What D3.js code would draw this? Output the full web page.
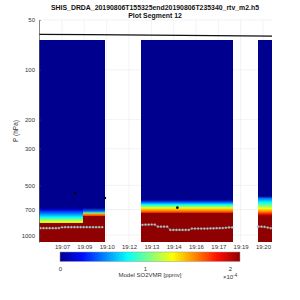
<!DOCTYPE html>
<html>
<head>
<meta charset="utf-8">
<script src="https://cdn.jsdelivr.net/npm/d3@7"></script>
<style>
  body { margin: 0; background: #fff; }
  text { font-family: "Liberation Sans", Arial, sans-serif; }
</style>
</head>
<body>
<svg id="chart" width="300" height="300"></svg>
<script>
const TITLE = "SHIS_DRDA_20190806T155325end20190806T235340_rtv_m2.h5";
const SUBTITLE = "Plot Segment 12";

// time is minutes after 19:00
const X_DOMAIN = [5.71, 20.78];
const P_DOMAIN = [50, 1100];
const X_TICKS = [7.2, 8.64, 10.09, 11.53, 12.98, 14.42, 15.86, 17.31, 18.75, 20.2];
const X_TICK_LABELS = ["19:07", "19:09", "19:10", "19:12", "19:13", "19:14", "19:16", "19:17", "19:19", "19:20"];
const P_TICKS = [50, 100, 200, 300, 500, 700, 1000];
const CBAR_MAX = 2.118; // x 1e-4 ppmv
const CBAR_TICKS = [0, 1, 2];

// SO2 VMR profiles (x1e-4 ppmv) as [pressure hPa, value]
const profileA = [[66, 0], [685, 0], [700, 0.15], [740, 0.5], [780, 0.8], [815, 1.15], [838, 1.3], [846, 2.2], [1100, 2.2]];
const profileB = [[66, 0], [685, 0], [715, 0.45], [735, 1.0], [745, 1.55], [760, 1.7], [768, 2.2], [1100, 2.2]];
const profileC = [[66, 0], [612, 0], [630, 0.4], [655, 0.8], [685, 1.3], [712, 1.6], [728, 1.75], [736, 2.2], [1100, 2.2]];
const profileD = [[66, 0], [582, 0], [600, 0.5], [635, 0.8], [690, 1.3], [722, 1.6], [745, 1.85], [765, 2.2], [1100, 2.2]];

// time segments with data
const segStart = [5.71, 8.56, 12.31, 19.85];
const segEnd = [8.56, 9.97, 18.23, 20.78];
const segProfile = [profileA, profileB, profileC, profileD];

// surface pressure (gray markers), one list per segment of data
const sfcTimes1 = [5.8, 6.0, 6.2, 6.4, 6.6, 6.8, 7.0, 7.2, 7.4, 7.6, 7.8, 8.0, 8.2, 8.4, 8.6, 8.8, 9.0, 9.2, 9.4, 9.6, 9.8];
const sfcP1 = [908, 908, 908, 908, 908, 908, 906, 896, 895, 895, 895, 895, 895, 895, 895, 895, 895, 895, 895, 895, 895];
const sfcTimes2 = [12.4, 12.6, 12.8, 13.0, 13.2, 13.4, 13.6, 13.8, 14.0, 14.2, 14.4, 14.6, 14.8, 15.0, 15.2, 15.4, 15.6, 15.8, 16.0, 16.2, 16.4, 16.6, 16.8, 17.0, 17.2, 17.4, 17.6, 17.8, 18.0, 18.2];
const sfcP2 = [866, 864, 864, 862, 864, 889, 889, 889, 889, 930, 930, 930, 930, 930, 930, 930, 913, 913, 913, 913, 913, 913, 910, 910, 908, 908, 906, 902, 898, 898];
const sfcTimes3 = [19.9, 20.1, 20.3, 20.5, 20.7];
const sfcP3 = [889, 889, 892, 900, 908];

// aircraft level (black line)
const flightTimes = [5.71, 9.0, 13.0, 17.0, 20.78];
const flightP = [61.0, 61.3, 61.7, 62.1, 62.5];

// black markers
const markTimes = [8.04, 9.97, 14.66];
const markP = [556, 596, 682];

const svg = d3.select("#chart");
const plot = { left: 39, right: 272, top: 20, bottom: 242 };

const x = d3.scaleLinear().domain(X_DOMAIN).range([plot.left, plot.right]);
const y = d3.scaleLog().domain(P_DOMAIN).range([plot.top, plot.bottom]);
const frac = d3.scaleLinear().domain([0, CBAR_MAX]).range([0, 1]).clamp(true);

// continuous version of matlab jet(64)
function jet(f) {
    const c = v => Math.max(0, Math.min(1, v));
    const g = 0.0156 + f * 0.9688;
    return d3.rgb(255 * c(1.5 - Math.abs(4 * g - 3)),
                  255 * c(1.5 - Math.abs(4 * g - 2)),
                  255 * c(1.5 - Math.abs(4 * g - 1))).formatHex();
}

const defs = svg.append("defs");

// grid behind the data
const grid = svg.append("g").attr("stroke", "#ebebeb").attr("stroke-width", 0.6);
grid.selectAll("line.gx").data(X_TICKS).enter().append("line")
    .attr("x1", d => x(d)).attr("x2", d => x(d))
    .attr("y1", plot.top).attr("y2", plot.bottom);
grid.selectAll("line.gy").data(P_TICKS).enter().append("line")
    .attr("x1", plot.left).attr("x2", plot.right)
    .attr("y1", d => y(d)).attr("y2", d => y(d));

// profile columns, each a vertical gradient
segProfile.forEach(function (prof, i) {
    const yTop = y(prof[0][0]), yBot = y(prof[prof.length - 1][0]);
    const grad = defs.append("linearGradient")
        .attr("id", "prof" + i)
        .attr("gradientUnits", "userSpaceOnUse")
        .attr("x1", 0).attr("x2", 0).attr("y1", yTop).attr("y2", yBot);
    grad.selectAll("stop").data(prof).enter().append("stop")
        .attr("offset", d => (y(d[0]) - yTop) / (yBot - yTop))
        .attr("stop-color", d => jet(frac(d[1])));
    svg.append("rect")
        .attr("x", x(segStart[i]))
        .attr("y", yTop)
        .attr("width", x(segEnd[i]) - x(segStart[i]))
        .attr("height", yBot - yTop)
        .attr("shape-rendering", "crispEdges")
        .attr("fill", "url(#prof" + i + ")");
});

// surface pressure lines with markers
[[sfcTimes1, sfcP1], [sfcTimes2, sfcP2], [sfcTimes3, sfcP3]].forEach(function (s) {
    const pts = s[0].map((t, i) => [t, s[1][i]]);
    svg.append("path")
        .attr("d", d3.line().x(d => x(d[0])).y(d => y(d[1]))(pts))
        .attr("fill", "none").attr("stroke", "#8a8a8a").attr("stroke-width", 0.8);
    svg.append("g").selectAll("circle").data(pts).enter().append("circle")
        .attr("cx", d => x(d[0])).attr("cy", d => y(d[1])).attr("r", 1.1)
        .attr("fill", "#c8c8c8").attr("stroke", "#7a7a7a").attr("stroke-width", 0.4);
});

// flight level
svg.append("path")
    .attr("d", d3.line().x((d, i) => x(flightTimes[i])).y(d => y(d))(flightP))
    .attr("fill", "none").attr("stroke", "#111").attr("stroke-width", 1.3);

svg.append("g").selectAll("circle").data(markTimes).enter().append("circle")
    .attr("cx", d => x(d)).attr("cy", (d, i) => y(markP[i])).attr("r", 1.3)
    .attr("fill", "#000");

// axes
const yAxis = svg.append("g")
    .attr("transform", "translate(" + plot.left + ",0)")
    .call(d3.axisLeft(y).tickValues(P_TICKS).tickFormat(d3.format("d")).tickSizeInner(-2).tickSizeOuter(0).tickPadding(4));
yAxis.select(".domain").attr("stroke", "#555").attr("stroke-width", 0.7);
yAxis.selectAll(".tick line").attr("stroke", "#555").attr("stroke-width", 0.5);
yAxis.selectAll(".tick text").attr("font-size", 6).attr("fill", "#333")
    .attr("font-family", "Liberation Sans, Arial, sans-serif");

const xAxis = svg.append("g")
    .attr("transform", "translate(0," + plot.bottom + ")")
    .call(d3.axisBottom(x).tickValues(X_TICKS).tickFormat((d, i) => X_TICK_LABELS[i]).tickSize(0).tickPadding(3));
xAxis.select(".domain").remove();
xAxis.selectAll(".tick text").attr("font-size", 6).attr("fill", "#333")
    .attr("font-family", "Liberation Sans, Arial, sans-serif");

svg.append("text")
    .attr("transform", "translate(18," + ((plot.top + plot.bottom) / 2) + ") rotate(-90)")
    .attr("text-anchor", "middle").attr("font-size", 6.5).attr("fill", "#333")
    .text("P (hPa)");

svg.append("text").attr("x", 155).attr("y", 9.5)
    .attr("text-anchor", "middle").attr("font-size", 6.9).attr("font-weight", "bold").attr("fill", "#111")
    .text(TITLE);
svg.append("text").attr("x", 155).attr("y", 18.3)
    .attr("text-anchor", "middle").attr("font-size", 6.9).attr("font-weight", "bold").attr("fill", "#111")
    .text(SUBTITLE);

// colorbar
const cb = { left: 60, right: 240, top: 252, bottom: 261.5 };
const cx = d3.scaleLinear().domain([0, CBAR_MAX]).range([cb.left, cb.right]);
const cgrad = defs.append("linearGradient").attr("id", "cbar");
cgrad.selectAll("stop").data(d3.range(0, 1.0001, 0.125)).enter().append("stop")
    .attr("offset", d => d).attr("stop-color", d => jet(d));
svg.append("rect")
    .attr("x", cb.left).attr("y", cb.top)
    .attr("width", cb.right - cb.left).attr("height", cb.bottom - cb.top)
    .attr("fill", "url(#cbar)").attr("stroke", "#999").attr("stroke-width", 0.5);

const cAxis = svg.append("g")
    .attr("transform", "translate(0," + cb.bottom + ")")
    .call(d3.axisBottom(cx).tickValues(CBAR_TICKS).tickFormat(d3.format("d")).tickSizeInner(0).tickSizeOuter(0).tickPadding(5));
cAxis.select(".domain").remove();
cAxis.selectAll(".tick text").attr("font-size", 6).attr("fill", "#333")
    .attr("font-family", "Liberation Sans, Arial, sans-serif");

svg.append("text").attr("x", 150).attr("y", 277)
    .attr("text-anchor", "middle").attr("font-size", 6).attr("fill", "#333")
    .text("Model SO2VMR [ppmv]");
const exp = svg.append("text").attr("x", 223).attr("y", 279)
    .attr("font-size", 6).attr("fill", "#333");
exp.append("tspan").text("×10");
exp.append("tspan").attr("dy", -2.5).attr("font-size", 4.5).text("-4");
</script>
</body>
</html>
